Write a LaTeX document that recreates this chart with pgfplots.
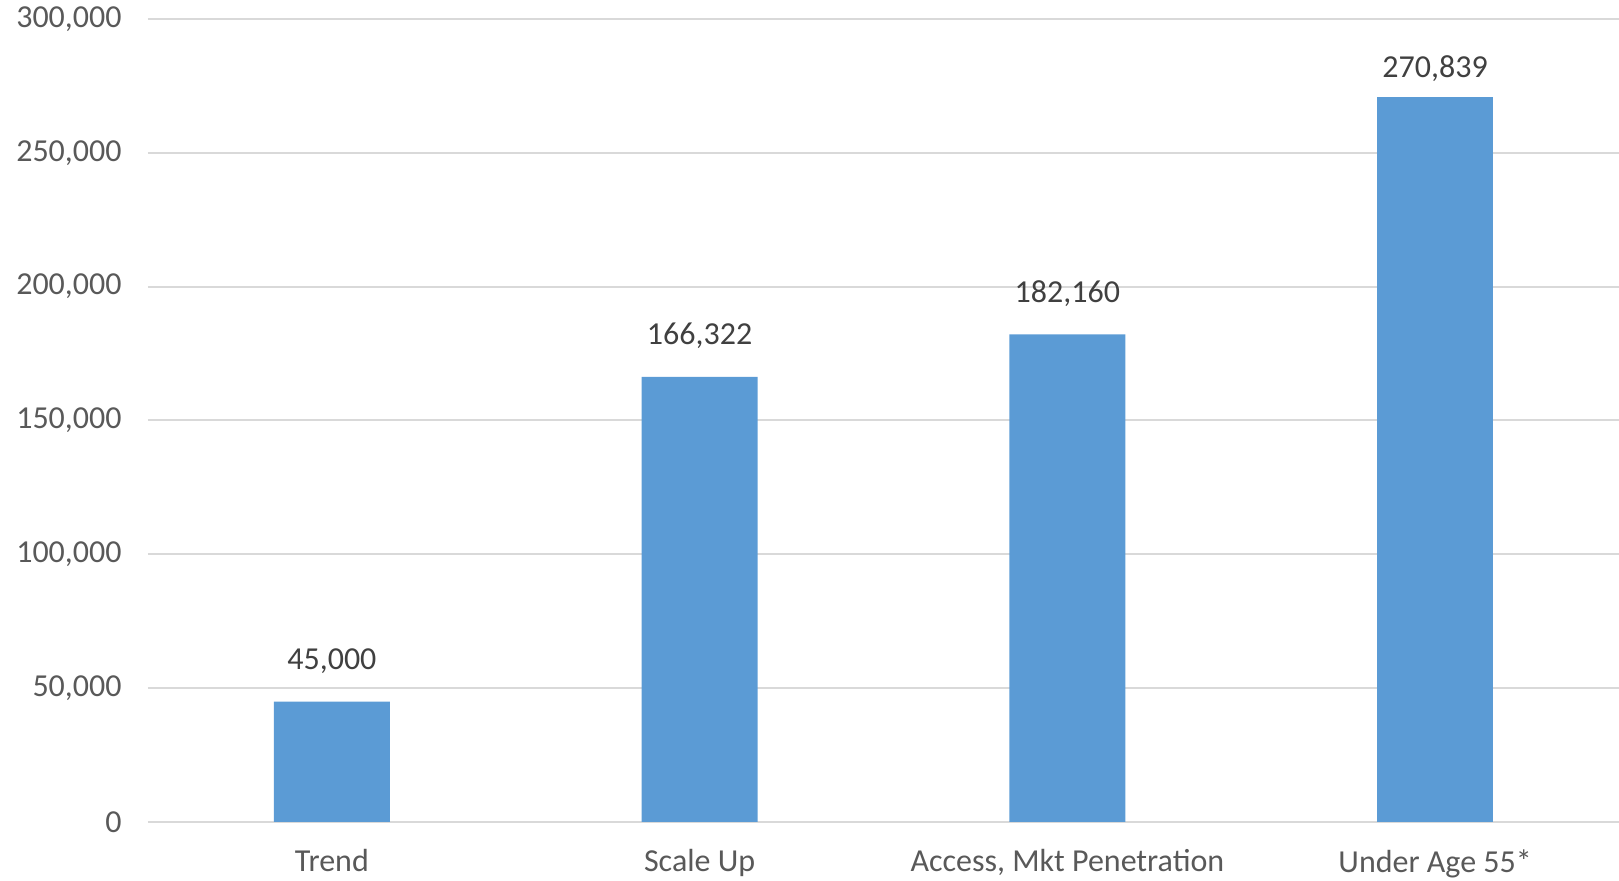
\documentclass[border=0pt]{standalone}
\usepackage{fontspec}
\setmainfont{Carlito}
\usepackage{pgfplots}
\pgfplotsset{compat=1.18}
\definecolor{barblue}{HTML}{5B9BD5}
\definecolor{gridgray}{HTML}{D9D9D9}
\definecolor{ticktext}{HTML}{595959}
\definecolor{labeltext}{HTML}{404040}
\begin{document}
\begin{tikzpicture}
\path[use as bounding box] (-74pt,-29.5pt) rectangle (735.5pt,411pt);
\begin{axis}[
  scale only axis,
  width=735.5pt, height=401.5pt,
  at={(0,0)}, anchor=south west,
  clip=false,
  ybar, bar width=58pt, bar shift=0pt,
  xmin=-0.5, xmax=3.5,
  ymin=0, ymax=300000,
  ytick={0,50000,100000,150000,200000,250000,300000},
  xtick={0,1,2,3},
  xticklabels={Trend, Scale Up, {Access, Mkt Penetration}, Under Age 55*},
  scaled y ticks=false,
  /pgf/number format/fixed,
  /pgf/number format/precision=0,
  /pgf/number format/1000 sep={,},
  /pgf/number format/assume math mode=true,
  major tick length=0pt,
  axis line style={draw=none},
  ymajorgrids, grid style={gridgray, line width=1pt},
  font=\fontsize{16}{19}\selectfont,
  yticklabel style={ticktext, inner sep=0pt, xshift=-13pt},
  xticklabel style={ticktext, inner sep=0pt, yshift=-13.5pt},
  nodes near coords,
  every node near coord/.append style={labeltext, anchor=base, inner sep=0pt},
]
\addplot[fill=barblue, draw=none,
  every node near coord/.append style={yshift=16pt}] coordinates {
  (0,45000) (1,166322) (2,182160)
};
% tallest bar: label sits closer to the bar top
\addplot[fill=barblue, draw=none,
  every node near coord/.append style={yshift=9.8pt}] coordinates {
  (3,270839)
};
\end{axis}
\end{tikzpicture}
\end{document}
